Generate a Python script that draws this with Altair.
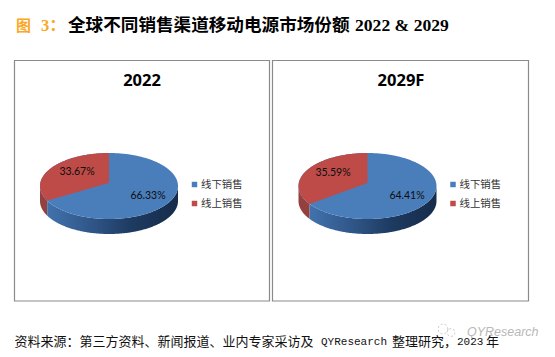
import numpy as np
import pandas as pd
import altair as alt

# ---- values ----
channels = ["线下销售", "线上销售"]
panel_titles = ["2022", "2029F"]
offline_share = [66.33, 64.41]
online_share = [33.67, 35.59]
share_labels_offline = ["66.33%", "64.41%"]
share_labels_online = ["33.67%", "35.59%"]
BLUE = "#4a7ebb"
RED = "#be4b48"
RED_WALL = "#94403e"

W, H = 539, 341
xs = alt.Scale(domain=[8, 8 + W], range=[0, W], nice=False, zero=False)
ys = alt.Scale(domain=[8, 8 + H], range=[0, H], nice=False, zero=False)
NA = None
X = lambda f="x": alt.X(f, type="quantitative", scale=xs, axis=NA)
Y = lambda f="y": alt.Y(f, type="quantitative", scale=ys, axis=NA)

layers = []


def text(rows, **kw):
    df = pd.DataFrame(rows, columns=["x", "y", "t"])
    layers.append(alt.Chart(df).mark_text(baseline="middle", **kw).encode(x=X(), y=Y(), text="t:N"))


def area(df, fill):
    layers.append(
        alt.Chart(df).mark_area(color=fill, orient="vertical", line=False, interpolate="linear")
        .encode(x=X(), y=Y("y"), y2=alt.Y2("y2"))
    )


def pie(box, title, cx, title_x, online, off_lab, on_lab, off_pos, on_pos, leg_x):
    # panel frame
    l, t, r, b = box
    frame = pd.DataFrame({"x": [l], "x2": [r], "y": [t], "y2": [b]})
    layers.append(
        alt.Chart(frame).mark_rect(fill="white", stroke="#8a8a8a", strokeWidth=1.2)
        .encode(x=X(), x2="x2", y=Y(), y2="y2")
    )
    text([[title_x, 81, title]], font="Open Sans", fontSize=16.5, fontWeight="bold", color="#000000", align="center")

    rx, ry, cy, depth, apex = 69.0, 33.0, 186.0, 15.0, 183.0
    # the tilted view foreshortens the slice angle a little
    ang = online / 100 * 2 * np.pi * 0.96
    split_x = cx - rx * np.sin(ang)
    split_y = cy - ry * np.cos(ang)

    px = np.unique(np.concatenate([cx + rx * np.cos(np.linspace(0, np.pi, 241)), [split_x, cx]]))
    e = ry * np.sqrt(np.clip(1 - ((px - cx) / rx) ** 2, 0, 1))
    top, bot = cy - e, cy + e

    # side walls
    m = px <= split_x
    area(pd.DataFrame({"x": px[m], "y": bot[m], "y2": bot[m] + depth}), RED_WALL)
    m = px >= split_x
    grad = alt.Gradient(
        gradient="linear", x1=0, x2=1, y1=0, y2=0,
        stops=[alt.GradientStop(color="#4172ad", offset=0),
               alt.GradientStop(color="#2f5587", offset=0.35),
               alt.GradientStop(color="#1d3a60", offset=0.65),
               alt.GradientStop(color="#162c4b", offset=1)],
    )
    area(pd.DataFrame({"x": px[m], "y": bot[m], "y2": bot[m] + depth}), grad)

    # top face
    area(pd.DataFrame({"x": px, "y": top, "y2": bot}), BLUE)
    m = px <= cx
    edge = np.where(px[m] <= split_x, bot[m],
                    apex + (split_y - apex) * (cx - px[m]) / (cx - split_x))
    area(pd.DataFrame({"x": px[m], "y": top[m], "y2": edge}), RED)

    # labels
    text([[off_pos[0], off_pos[1], off_lab], [on_pos[0], on_pos[1], on_lab]],
         font="Lato", fontSize=10.5, color="#0d0d0d", align="center")

    # legend
    leg = pd.DataFrame({"x": [leg_x, leg_x], "y": [184.5, 203.5], "c": [BLUE, RED]})
    layers.append(
        alt.Chart(leg).mark_square(size=30, opacity=1)
        .encode(x=X(), y=Y(), color=alt.Color("c:N", scale=None))
    )
    text([[leg_x + 6.5, 184.5, channels[0]], [leg_x + 6.5, 203.5, channels[1]]],
         font="Noto Sans CJK SC", fontSize=10.4, color="#333333", align="left")


pie((14.5, 60.5, 269.5, 301), panel_titles[0], 109, 142, online_share[0],
    share_labels_offline[0], share_labels_online[0], (148, 196), (77, 172), 194.5)
pie((272.5, 60.5, 528.5, 301), panel_titles[1], 367.5, 401, online_share[1],
    share_labels_offline[1], share_labels_online[1], (407, 196), (333, 173), 453)

# heading
text([[16, 26, "图"]], font="Noto Sans CJK SC", fontSize=15, fontWeight="bold", color="#f9a825", align="left")
text([[41, 26, "3："]], font="Liberation Serif, Noto Sans CJK SC", fontSize=16.5, fontWeight="bold", color="#f9a825", align="left")
text([[68, 26, "全球不同销售渠道移动电源市场份额"]],
     font="Noto Sans CJK SC", fontSize=17.6, fontWeight="bold", color="#000000", align="left")
text([[355, 26, "2022 & 2029"]],
     font="Liberation Serif", fontSize=17.6, fontWeight="bold", color="#000000", align="left")

# watermark
wm = pd.DataFrame({"x": [443, 451], "y": [329, 332.5], "s": [95, 60]})
layers.append(
    alt.Chart(wm).mark_point(filled=False, color="#c9c9c9", strokeWidth=1, opacity=1, strokeDash=[2, 2])
    .encode(x=X(), y=Y(), size=alt.Size("s:Q", scale=None))
)
text([[467, 332, "QYResearch"]], font="Liberation Sans", fontSize=12.5, fontStyle="italic", color="#b8b8b8", align="left")

# source line
SRC = dict(font="Noto Sans CJK SC", fontSize=13, color="#111111", align="left")
MONO = dict(font="Liberation Mono", fontSize=11, color="#111111", align="left")
text([[14.5, 341.5, "资料来源：第三方资料、新闻报道、业内专家采访及"]], **SRC)
text([[321, 342, "QYResearch"]], **MONO)
text([[392, 341.5, "整理研究，"]], **SRC)
text([[457, 342, "2023"]], **MONO)
text([[486, 341.5, "年"]], **SRC)

chart = (
    alt.layer(*layers)
    .resolve_scale(color="independent")
    .properties(width=W, height=H, padding=0, background="white")
    .configure_view(stroke=None)
)
chart.save("out.html", embed_options={"renderer": "svg", "actions": False})
